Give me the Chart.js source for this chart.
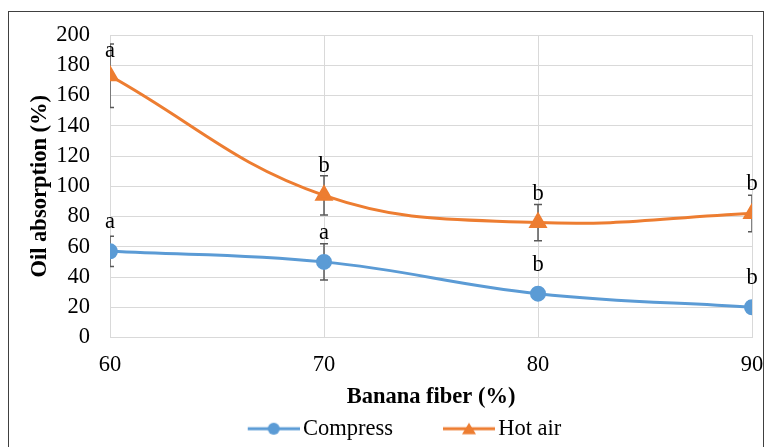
<!DOCTYPE html>
<html>
<head>
<meta charset="utf-8">
<script src="https://cdn.jsdelivr.net/npm/chart.js@4.4.1/dist/chart.umd.min.js"></script>
<style>
  html, body { margin: 0; padding: 0; background: #fff; }
  #wrap { width: 766px; height: 447px; position: relative; }
</style>
</head>
<body>
<div id="wrap"><canvas id="oilChart" width="766" height="447"></canvas></div>
<script>
// Dati
const fiberPct = [60, 70, 80, 90];
const compressVals = [57, 50, 29, 20];
const compressErr = [10, 12, 3, 4];
const compressLetters = ["a", "a", "b", "b"];
const hotAirVals = [173, 94, 76, 82];
const hotAirErr = [21, 13, 12, 12];
const hotAirLetters = ["a", "b", "b", "b"];
const yTicks = [0, 20, 40, 60, 80, 100, 120, 140, 160, 180, 200];

const FONT = "'Liberation Serif', 'Times New Roman', serif";
const FS = 22.5;
const BLUE = "#5B9BD5";
const ORANGE = "#ED7D31";

// icona legenda: linea + marker (stile Excel). Parte sinistra trasparente
// così il testo parte subito dopo la linea.
const ICON_W = 106, BOX_W = 90;
function legendIcon(color, shape){
  const c = document.createElement("canvas");
  c.width = ICON_W; c.height = 16;
  const g = c.getContext("2d");
  const x0 = ICON_W - 52;
  g.strokeStyle = color; g.lineWidth = 3;
  g.beginPath(); g.moveTo(x0, 8); g.lineTo(ICON_W, 8); g.stroke();
  g.fillStyle = color;
  g.beginPath();
  const cx = x0 + 26;
  if (shape === "circle") g.arc(cx, 8, 6, 0, Math.PI * 2);
  else { g.moveTo(cx, 2); g.lineTo(cx + 7, 13.5); g.lineTo(cx - 7, 13.5); g.closePath(); }
  g.fill();
  return c;
}

// barre d'errore + lettere di significatività
const extras = {
  id: "extras",
  afterLayout(chart){
    // posizione della legenda come nell'originale
    if (chart.legend) {
      chart.legend.left -= 8; chart.legend.right -= 8;
      chart.legend.top += 3; chart.legend.bottom += 3;
    }
  },
  beforeDatasetsDraw(chart){
    const { ctx, chartArea, scales } = chart;
    ctx.save();
    ctx.beginPath();
    ctx.rect(chartArea.left, chartArea.top - 20, chartArea.right - chartArea.left, chartArea.bottom - chartArea.top + 20);
    ctx.clip();
    ctx.strokeStyle = "#595959";
    ctx.lineWidth = 1.5;
    chart.data.datasets.forEach(ds => {
      ds.data.forEach((p, i) => {
        const x = scales.x.getPixelForValue(p.x);
        const yt = scales.y.getPixelForValue(p.y + ds.err[i]);
        const yb = scales.y.getPixelForValue(p.y - ds.err[i]);
        ctx.beginPath();
        ctx.moveTo(x, yt); ctx.lineTo(x, yb);
        ctx.moveTo(x - 4, yt); ctx.lineTo(x + 4, yt);
        ctx.moveTo(x - 4, yb); ctx.lineTo(x + 4, yb);
        ctx.stroke();
      });
    });
    ctx.restore();
  },
  afterDatasetsDraw(chart){
    const { ctx, chartArea, scales } = chart;
    ctx.save();
    ctx.font = FS + "px " + FONT;
    ctx.fillStyle = "#000";
    ctx.textAlign = "center";
    ctx.textBaseline = "alphabetic";
    chart.data.datasets.forEach(ds => {
      ds.data.forEach((p, i) => {
        const x = scales.x.getPixelForValue(p.x);
        const y = Math.max(scales.y.getPixelForValue(p.y) - 23, chartArea.top + 22);
        ctx.fillText(ds.letters[i], x, y);
      });
    });
    ctx.restore();
  },
  beforeDraw(chart){
    const ctx = chart.ctx;
    ctx.save();
    ctx.fillStyle = "#fff";
    ctx.fillRect(0, 0, chart.width, chart.height);
    ctx.strokeStyle = "#404040";
    ctx.lineWidth = 1;
    ctx.strokeRect(8.5, 11.5, 755, 445);
    ctx.restore();
  }
};

const toPts = vals => vals.map((v, i) => ({ x: fiberPct[i], y: v }));

new Chart(document.getElementById("oilChart"), {
  type: "line",
  data: {
    datasets: [
      {
        label: "Compress", data: toPts(compressVals), err: compressErr, letters: compressLetters,
        borderColor: BLUE, backgroundColor: BLUE, borderWidth: 3,
        pointStyle: "circle", pointRadius: 6.5, pointHoverRadius: 6.5, tension: 0.4,
        legendIcon: legendIcon(BLUE, "circle")
      },
      {
        label: "Hot air", data: toPts(hotAirVals), err: hotAirErr, letters: hotAirLetters,
        borderColor: ORANGE, backgroundColor: ORANGE, borderWidth: 3,
        pointStyle: "triangle", pointRadius: 8, pointHoverRadius: 8, tension: 0.4,
        legendIcon: legendIcon(ORANGE, "triangle")
      }
    ]
  },
  options: {
    responsive: false,
    animation: false,
    layout: { padding: { left: 27, right: 14, top: 35, bottom: 0 } },
    plugins: {
      tooltip: { enabled: false },
      legend: {
        position: "bottom",
        labels: {
          color: "#000", font: { family: FONT, size: FS },
          usePointStyle: true, pointStyleWidth: BOX_W, padding: 4,
          generateLabels: (chart) => chart.data.datasets.map((ds, i) => ({
            text: ds.label, pointStyle: ds.legendIcon, fillStyle: ds.borderColor,
            strokeStyle: ds.borderColor, lineWidth: 0, datasetIndex: i, fontColor: "#000"
          }))
        }
      }
    },
    scales: {
      x: {
        type: "linear", min: 60, max: 90,
        afterBuildTicks: (s) => { s.ticks = fiberPct.map(v => ({ value: v })); },
        // altezza dell'asse ridotta: il titolo resta ancorato in basso
        afterFit: (s) => { s.paddingRight = 0; s.paddingLeft = 0; s.height -= 10; },
        grid: { color: "#d9d9d9", lineWidth: 1, drawTicks: false },
        border: { color: "#d9d9d9" },
        ticks: { color: "#000", font: { family: FONT, size: FS, lineHeight: 1 }, padding: 16, autoSkip: false, maxRotation: 0 },
        title: { display: true, text: "Banana fiber (%)", color: "#000", font: { family: FONT, size: FS, weight: "bold" }, padding: { top: 1.5, bottom: 0 } }
      },
      y: {
        min: 0, max: 200,
        afterBuildTicks: (s) => { s.ticks = yTicks.map(v => ({ value: v })); },
        afterFit: (s) => { s.width = 83; },
        grid: { color: "#d9d9d9", lineWidth: 1, drawTicks: false },
        border: { display: false },
        ticks: { color: "#000", font: { family: FONT, size: FS }, padding: 20, autoSkip: false },
        title: { display: true, text: "Oil absorption (%)", color: "#000", font: { family: FONT, size: FS, weight: "bold" }, padding: 0 }
      }
    }
  },
  plugins: [extras]
});
</script>
</body>
</html>
